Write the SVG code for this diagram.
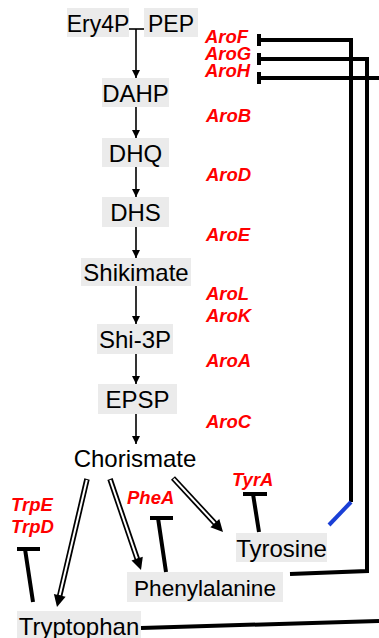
<svg xmlns="http://www.w3.org/2000/svg" width="379" height="638" viewBox="0 0 379 638">
  <style>
    .box { fill: #ebebeb; }
    .lbl { font-family: "Liberation Sans", Arial, sans-serif; font-size: 24px; fill: #000; text-anchor: middle; }
    .enz { font-family: "Liberation Sans", Arial, sans-serif; font-size: 18.5px; font-weight: bold; font-style: italic; fill: #ff0000; }
    .step { stroke: #000; stroke-width: 1.6; fill: none; }
    .inh { stroke: #000; stroke-width: 4; fill: none; stroke-linecap: butt; }
    .outer { stroke: #000; stroke-width: 4; fill: none; }
    .dbl-out { stroke: #000; stroke-width: 5.5; fill: none; }
    .dbl-in { stroke: #fff; stroke-width: 2; fill: none; }
  </style>
  <defs>
    <marker id="tip8" viewBox="0 0 10 10" refX="10" refY="5" markerWidth="8" markerHeight="8" orient="auto" markerUnits="userSpaceOnUse">
      <path d="M0,0 L10,5 L0,10 z" fill="#000"/>
    </marker>
  </defs>

  <!-- metabolites -->
  <g id="ery4p"><rect class="box" x="67" y="8" width="62" height="29"/><text class="lbl" x="98" y="32" style="font-size:23px">Ery4P</text></g>
  <g id="pep"><rect class="box" x="144" y="8" width="54" height="29"/><text class="lbl" x="171" y="32" style="font-size:23px">PEP</text></g>
  <g id="dahp"><rect class="box" x="102" y="78" width="67" height="29"/><text class="lbl" x="135.5" y="102">DAHP</text></g>
  <g id="dhq"><rect class="box" x="102" y="138" width="67" height="29"/><text class="lbl" x="135.5" y="162">DHQ</text></g>
  <g id="dhs"><rect class="box" x="102" y="197" width="67" height="30"/><text class="lbl" x="135.5" y="221">DHS</text></g>
  <g id="shikimate"><rect class="box" x="81" y="258" width="110" height="28"/><text class="lbl" x="136" y="281">Shikimate</text></g>
  <g id="shi3p"><rect class="box" x="97" y="324" width="76" height="30"/><text class="lbl" x="135" y="348">Shi-3P</text></g>
  <g id="epsp"><rect class="box" x="98" y="384" width="79" height="30"/><text class="lbl" x="137.5" y="408">EPSP</text></g>
  <g id="chorismate"><text class="lbl" x="135" y="467">Chorismate</text></g>
  <g id="tyrosine"><rect class="box" x="236" y="533" width="91" height="29"/><text class="lbl" x="281.5" y="557">Tyrosine</text></g>
  <g id="phenylalanine"><rect class="box" x="127" y="572" width="156" height="30"/><text class="lbl" x="205" y="596" style="font-size:22.6px">Phenylalanine</text></g>
  <g id="tryptophan"><rect class="box" x="17" y="611" width="124" height="30"/><text class="lbl" x="79" y="635">Tryptophan</text></g>

  <!-- enzymes -->
  <g id="enzymes">
    <text class="enz" x="205" y="43">AroF</text>
    <text class="enz" x="205" y="60">AroG</text>
    <text class="enz" x="205" y="77">AroH</text>
    <text class="enz" x="206" y="122">AroB</text>
    <text class="enz" x="206" y="181">AroD</text>
    <text class="enz" x="206" y="241">AroE</text>
    <text class="enz" x="206" y="300">AroL</text>
    <text class="enz" x="206" y="322">AroK</text>
    <text class="enz" x="206" y="367">AroA</text>
    <text class="enz" x="206" y="428">AroC</text>
    <text class="enz" x="232" y="486">TyrA</text>
    <text class="enz" x="127" y="504">PheA</text>
    <text class="enz" x="11" y="511">TrpE</text>
    <text class="enz" x="11" y="533">TrpD</text>
  </g>

  <g id="connectors">
    <!-- condensation of Ery4P and PEP -->
    <path class="step" d="M129,29 H144"/>
    <path class="step" d="M136,29 V78" marker-end="url(#tip8)"/>
    <path class="step" d="M136,107 V138" marker-end="url(#tip8)"/>
    <path class="step" d="M136,167 V197" marker-end="url(#tip8)"/>
    <path class="step" d="M136,227 V258" marker-end="url(#tip8)"/>
    <path class="step" d="M136,286 V324" marker-end="url(#tip8)"/>
    <path class="step" d="M136,354 V384" marker-end="url(#tip8)"/>
    <path class="step" d="M136,414 V444" marker-end="url(#tip8)"/>

    <!-- branch arrows from chorismate -->
    <g id="to-tyr">
      <path class="dbl-out" d="M173,478 L216.2,524.7"/>
      <path class="dbl-in" d="M173.7,478.7 L214.9,523.2"/>
      <polygon points="210.4,527.3 223,532 219.3,519.1" fill="#000"/>
    </g>
    <g id="to-phe">
      <path class="dbl-out" d="M110,479 L137.8,560.5"/>
      <path class="dbl-in" d="M110.3,480 L137.1,558.6"/>
      <polygon points="131.5,560.6 141,570 142.8,556.7" fill="#000"/>
    </g>
    <g id="to-trp">
      <path class="dbl-out" d="M87,479 L59.3,597.3"/>
      <path class="dbl-in" d="M86.8,480 L59.7,595.3"/>
      <polygon points="53.9,594 57,607 65.6,596.7" fill="#000"/>
    </g>

    <!-- feedback inhibition -->
    <path class="inh" d="M259,34 V46"/>
    <path class="inh" d="M259,53 V65"/>
    <path class="inh" d="M259,72 V84"/>
    <path class="outer" d="M259,40 H351 V502"/>
    <path d="M351,502 L329,525" stroke="#1a3fd6" stroke-width="4" fill="none"/>
    <path class="outer" d="M259,59 H367 V571 L290,574"/>
    <path class="outer" d="M259,78 H379"/>
    <path class="outer" d="M141,628 L379,621"/>

    <path class="inh" d="M243,494 H267 M253,494 L259,532"/>
    <path class="inh" d="M150,518 H173 M158,518 L166,572"/>
    <path class="inh" d="M17,549 H40 M25,549 L33,602"/>
  </g>
</svg>
